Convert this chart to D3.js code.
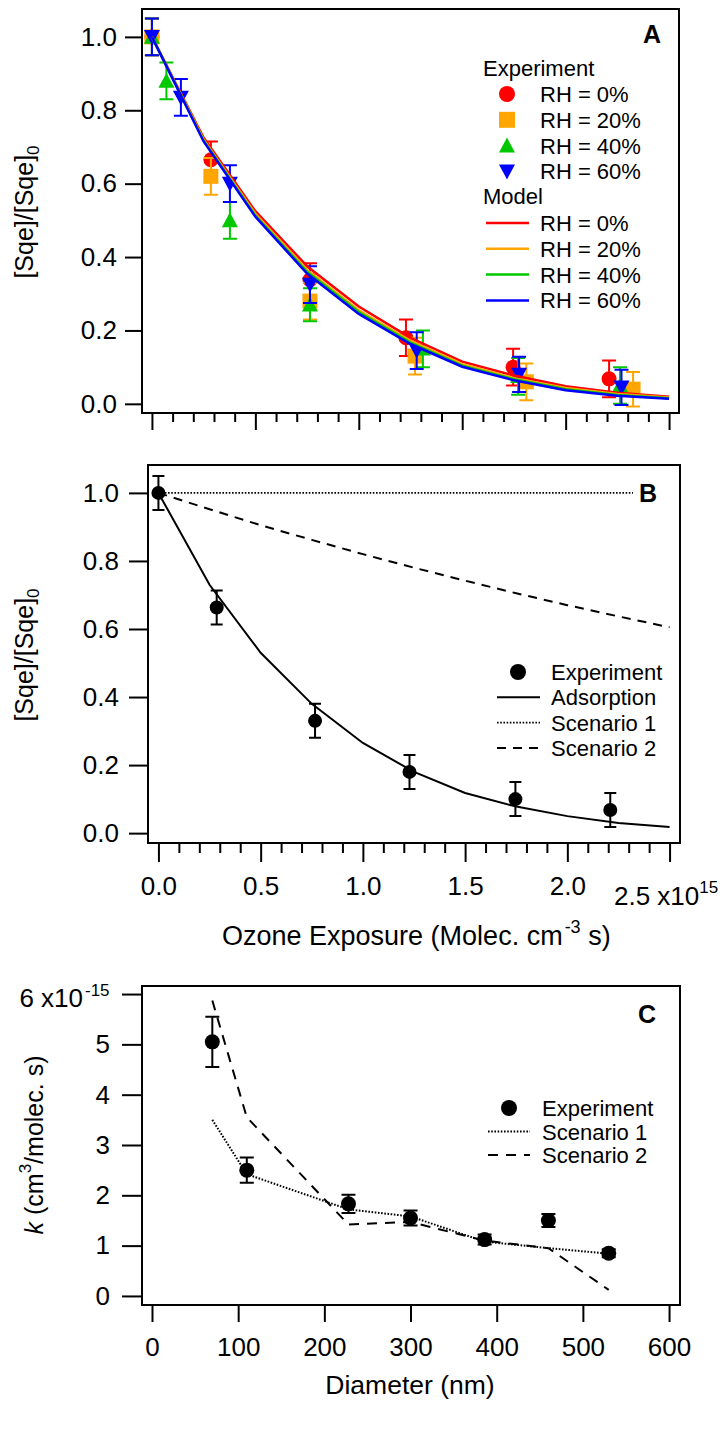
<!DOCTYPE html>
<html>
<head>
<meta charset="utf-8">
<script src="https://cdn.jsdelivr.net/npm/d3@7"></script>
<style>
  body { margin: 0; background: #fff; }
  text { font-family: "Liberation Sans", Arial, Helvetica, sans-serif; fill: #000; }
</style>
</head>
<body>
<svg id="chart"></svg>
<script>
// ---------- data ----------
// panel A, experiment: [exposure (1e15), Sqe/Sqe0, error]
var expRH0  = [[0, 1.0, 0.05], [0.285, 0.665, 0.05], [0.764, 0.338, 0.045], [1.228, 0.18, 0.05], [1.746, 0.10, 0.05], [2.21, 0.068, 0.05]];
var expRH20 = [[0, 1.0, 0.05], [0.285, 0.62, 0.05], [0.764, 0.28, 0.05], [1.272, 0.13, 0.05], [1.81, 0.06, 0.05], [2.326, 0.04, 0.047]];
var expRH40 = [[0, 1.0, 0.05], [0.07, 0.88, 0.05], [0.377, 0.50, 0.05], [0.764, 0.27, 0.045], [1.31, 0.15, 0.05], [1.77, 0.075, 0.05], [2.263, 0.05, 0.05]];
var expRH60 = [[0, 1.0, 0.05], [0.14, 0.835, 0.05], [0.377, 0.60, 0.05], [0.764, 0.325, 0.05], [1.28, 0.145, 0.05], [1.775, 0.08, 0.048], [2.27, 0.045, 0.048]];

// model curves, sampled at modelX
var modelX    = [0, 0.25, 0.5, 0.75, 1.0, 1.25, 1.5, 1.75, 2.0, 2.25, 2.5];
var modelRH0  = [1.0, 0.725, 0.525, 0.375, 0.265, 0.18, 0.115, 0.077, 0.048, 0.030, 0.019];
var modelRH20 = [1.0, 0.72, 0.518, 0.365, 0.255, 0.172, 0.108, 0.070, 0.043, 0.027, 0.017];
var modelRH40 = [1.0, 0.717, 0.513, 0.36, 0.25, 0.167, 0.104, 0.067, 0.040, 0.024, 0.015];
var modelRH60 = [1.0, 0.715, 0.51, 0.355, 0.245, 0.163, 0.101, 0.064, 0.037, 0.022, 0.014];

// panel B
var expB       = [[0, 1.0, 0.05], [0.285, 0.663, 0.05], [0.766, 0.33, 0.05], [1.228, 0.18, 0.05], [1.746, 0.10, 0.05], [2.21, 0.068, 0.05]];
var adsorption = [1.0, 0.73, 0.53, 0.38, 0.265, 0.18, 0.118, 0.078, 0.05, 0.03, 0.018];
var scenario1B = [1.0, 1.0, 1.0, 1.0, 1.0, 1.0, 1.0, 1.0, 1.0, 1.0, 1.0];
var scenario2B = [1.0, 0.952, 0.905, 0.862, 0.82, 0.78, 0.742, 0.705, 0.67, 0.637, 0.605];

// panel C: diameter (nm), k (1e-15 cm3/molec s)
var diamC   = [70, 110, 228, 300, 386, 460, 530];
var kExp    = [5.05, 2.5, 1.83, 1.55, 1.12, 1.5, 0.85];
var kErr    = [0.5, 0.25, 0.18, 0.15, 0.1, 0.13, 0.08];
var kScen1  = [3.5, 2.42, 1.72, 1.58, 1.08, 0.95, 0.84];
var kScen2  = [5.87, 3.55, 1.42, 1.47, 1.1, 0.95, 0.12];

// ticks
var yTicksAB   = [0, 0.2, 0.4, 0.6, 0.8, 1.0];
var xMajorAB   = [0, 0.5, 1.0, 1.5, 2.0, 2.5];
var xMinorAB   = d3.range(0, 26).filter(function(i) { return i % 5 != 0; }).map(function(i) { return i / 10; });
var yTicksC    = [0, 1, 2, 3, 4, 5, 6];
var xTicksC    = [0, 100, 200, 300, 400, 500, 600];

var RED = "#ff0000", ORANGE = "#ffa500", GREEN = "#00c800", BLUE = "#0000ff";
var TICK_FS = 26, TITLE_FS = 26.5, LEG_FS = 22;

// ---------- svg ----------
var svg = d3.select("#chart").attr("width", 727).attr("height", 1449);

var shapes = {
  circle: function(r) { return "M" + (-r) + ",0a" + r + "," + r + " 0 1,0 " + (2 * r) + ",0a" + r + "," + r + " 0 1,0 " + (-2 * r) + ",0Z"; },
  square: function(r) { return "M" + (-r) + "," + (-r) + "h" + (2 * r) + "v" + (2 * r) + "h" + (-2 * r) + "Z"; },
  up:     function(r) { return "M" + (-r) + "," + (r * 0.85) + "H" + r + "L0," + (-r) + "Z"; },
  down:   function(r) { return "M" + (-r) + "," + (-r * 0.85) + "H" + r + "L0," + r + "Z"; }
};

function styleAxis(g) {
  g.attr("font-size", null).attr("font-family", null);
  g.select(".domain").remove();
  g.selectAll(".tick line").attr("stroke", "#000").attr("stroke-width", 2);
  g.selectAll(".tick text").style("font-size", TICK_FS + "px");
}

function frame(x, y) {
  var x0 = x.range()[0], x1 = x.range()[1], y0 = y.range()[1], y1 = y.range()[0];
  svg.append("rect").attr("x", x0).attr("y", y0).attr("width", x1 - x0).attr("height", y1 - y0)
    .attr("fill", "none").attr("stroke", "#000").attr("stroke-width", 2);
}

function errorBars(g, data, x, y, color, cap) {
  g.append("g").attr("stroke", color).attr("stroke-width", 2).attr("fill", "none")
    .selectAll("path").data(data).join("path")
    .attr("d", function(d) {
      var cx = x(d[0]), t = y(d[1] + d[2]), b = y(d[1] - d[2]);
      return "M" + (cx - cap) + "," + t + "h" + (2 * cap) + "M" + cx + "," + t + "V" + b + "M" + (cx - cap) + "," + b + "h" + (2 * cap);
    });
}

function markers(g, data, x, y, color, shape, r) {
  g.append("g").attr("fill", color)
    .selectAll("path").data(data).join("path")
    .attr("transform", function(d) { return "translate(" + x(d[0]) + "," + y(d[1]) + ")"; })
    .attr("d", shapes[shape](r));
}

// ================= Panel A =================
var xA = d3.scaleLinear().domain([-0.048, 2.548]).range([142, 679]);
var yA = d3.scaleLinear().domain([-0.025, 1.076]).range([413, 9]);

svg.append("g").attr("transform", "translate(142,0)")
  .call(d3.axisLeft(yA).tickValues(yTicksAB).tickFormat(d3.format(".1f")).tickSize(17).tickPadding(8))
  .call(styleAxis);
svg.append("g").attr("transform", "translate(0,413)")
  .call(d3.axisBottom(xA).tickValues(xMajorAB).tickFormat("").tickSize(17))
  .call(styleAxis);
svg.append("g").attr("transform", "translate(0,413)")
  .call(d3.axisBottom(xA).tickValues(xMinorAB).tickFormat("").tickSize(9))
  .call(styleAxis);

var expA = [
  { data: expRH0, color: RED, shape: "circle", r: 7.5 },
  { data: expRH20, color: ORANGE, shape: "square", r: 7.5 },
  { data: expRH40, color: GREEN, shape: "up", r: 8 },
  { data: expRH60, color: BLUE, shape: "down", r: 8 }
];
var gA = svg.append("g");
expA.forEach(function(s) {
  errorBars(gA, s.data, xA, yA, s.color, 7);
  markers(gA, s.data, xA, yA, s.color, s.shape, s.r);
});

var modelA = [
  { values: modelRH0, color: RED },
  { values: modelRH20, color: ORANGE },
  { values: modelRH40, color: GREEN },
  { values: modelRH60, color: BLUE }
];
var lineA = d3.line().x(function(d, i) { return xA(modelX[i]); }).y(function(d) { return yA(d); });
modelA.forEach(function(s) {
  gA.append("path").attr("d", lineA(s.values)).attr("fill", "none")
    .attr("stroke", s.color).attr("stroke-width", 2.5);
});
frame(xA, yA);

svg.append("text").attr("x", 652).attr("y", 43).attr("text-anchor", "middle")
  .style("font-size", "25px").style("font-weight", "bold").text("A");

// legend A
var rhLabels = ["RH = 0%", "RH = 20%", "RH = 40%", "RH = 60%"];
var legA = svg.append("g").style("font-size", LEG_FS + "px");
legA.append("text").attr("x", 483).attr("y", 76).text("Experiment");
expA.forEach(function(s, i) {
  var cy = 94 + i * 25.8;
  legA.append("path").attr("transform", "translate(507," + cy + ")").attr("d", shapes[s.shape](8)).attr("fill", s.color);
  legA.append("text").attr("x", 540).attr("y", cy + 8).text(rhLabels[i]);
});
legA.append("text").attr("x", 483).attr("y", 204).text("Model");
modelA.forEach(function(s, i) {
  var cy = 223 + i * 25.8;
  legA.append("line").attr("x1", 486).attr("x2", 529).attr("y1", cy).attr("y2", cy)
    .attr("stroke", s.color).attr("stroke-width", 2.5);
  legA.append("text").attr("x", 540).attr("y", cy + 8).text(rhLabels[i]);
});

// y title A
var tA = svg.append("text").attr("transform", "translate(33,212) rotate(-90)").attr("text-anchor", "middle")
  .style("font-size", "25px");
tA.append("tspan").text("[Sqe]/[Sqe]");
tA.append("tspan").attr("dy", 6).style("font-size", "17px").text("0");

// ================= Panel B =================
var xB = d3.scaleLinear().domain([-0.051, 2.551]).range([148, 680]);
var yB = d3.scaleLinear().domain([-0.029, 1.082]).range([843, 465]);

svg.append("g").attr("transform", "translate(148,0)")
  .call(d3.axisLeft(yB).tickValues(yTicksAB).tickFormat(d3.format(".1f")).tickSize(19).tickPadding(10))
  .call(styleAxis);
svg.append("g").attr("transform", "translate(0,843)")
  .call(d3.axisBottom(xB).tickValues(xMajorAB).tickSize(19).tickPadding(15)
    .tickFormat(function(d) { return d === 2.5 ? "" : d3.format(".1f")(d); }))
  .call(styleAxis);
svg.append("g").attr("transform", "translate(0,843)")
  .call(d3.axisBottom(xB).tickValues(xMinorAB).tickFormat("").tickSize(10))
  .call(styleAxis);

var lineB = d3.line().x(function(d, i) { return xB(modelX[i]); }).y(function(d) { return yB(d); });
var gB = svg.append("g");
gB.append("path").attr("d", lineB(scenario1B)).attr("fill", "none").attr("stroke", "#000")
  .attr("stroke-width", 1.8).attr("stroke-dasharray", "1.6,1.6");
gB.append("path").attr("d", lineB(scenario2B)).attr("fill", "none").attr("stroke", "#000")
  .attr("stroke-width", 2).attr("stroke-dasharray", "9,7");
gB.append("path").attr("d", lineB(adsorption)).attr("fill", "none").attr("stroke", "#000")
  .attr("stroke-width", 2);
errorBars(gB, expB, xB, yB, "#000", 6);
markers(gB, expB, xB, yB, "#000", "circle", 7);

// label box hides the end of the dotted line, as in the original
svg.append("rect").attr("x", 633).attr("y", 482).attr("width", 46).attr("height", 24).attr("fill", "#fff");
frame(xB, yB);
svg.append("text").attr("x", 648).attr("y", 502).attr("text-anchor", "middle")
  .style("font-size", "25px").style("font-weight", "bold").text("B");

// legend B
var legB = svg.append("g").style("font-size", LEG_FS + "px");
var legBRows = ["Experiment", "Adsorption", "Scenario 1", "Scenario 2"];
var legBDash = [null, null, "1.6,1.6", "9,7"];
legBRows.forEach(function(lbl, i) {
  var cy = 672 + i * 25.3;
  if (i === 0) {
    legB.append("path").attr("transform", "translate(518," + cy + ")").attr("d", shapes.circle(8)).attr("fill", "#000");
  } else {
    legB.append("line").attr("x1", 497).attr("x2", 540).attr("y1", cy).attr("y2", cy)
      .attr("stroke", "#000").attr("stroke-width", i === 2 ? 1.8 : 2).attr("stroke-dasharray", legBDash[i]);
  }
  legB.append("text").attr("x", 551).attr("y", cy + 8).text(lbl);
});

// y title B
var tB = svg.append("text").attr("transform", "translate(33,655) rotate(-90)").attr("text-anchor", "middle")
  .style("font-size", "25px");
tB.append("tspan").text("[Sqe]/[Sqe]");
tB.append("tspan").attr("dy", 6).style("font-size", "17px").text("0");

// x tick 2.5 with exponent
var t25 = svg.append("text").attr("x", 614).attr("y", 905).style("font-size", TICK_FS + "px");
t25.append("tspan").text("2.5 x10");
t25.append("tspan").attr("dy", -12).style("font-size", "17px").text("15");

// x title
var tX = svg.append("text").attr("x", 222).attr("y", 945).style("font-size", "27px");
tX.append("tspan").text("Ozone Exposure (Molec. cm");
tX.append("tspan").attr("dy", -12).attr("dx", 2).style("font-size", "18px").text("-3");
tX.append("tspan").attr("dy", 12).text(" s)");

// ================= Panel C =================
var xC = d3.scaleLinear().domain([-11.6, 612.7]).range([142, 680]);
var yC = d3.scaleLinear().domain([-0.18, 6.16]).range([1305, 986]);

svg.append("g").attr("transform", "translate(142,0)")
  .call(d3.axisLeft(yC).tickValues(yTicksC).tickSize(20).tickPadding(12)
    .tickFormat(function(d) { return d === 6 ? "" : d; }))
  .call(styleAxis);
svg.append("g").attr("transform", "translate(0,1305)")
  .call(d3.axisBottom(xC).tickValues(xTicksC).tickSize(17).tickPadding(16))
  .call(styleAxis);

var pointsC = diamC.map(function(d, i) { return [d, kExp[i], kErr[i]]; });
var lineC = d3.line().x(function(d, i) { return xC(diamC[i]); }).y(function(d) { return yC(d); });
var gC = svg.append("g");
gC.append("path").attr("d", lineC(kScen1)).attr("fill", "none").attr("stroke", "#000")
  .attr("stroke-width", 2).attr("stroke-dasharray", "1.6,1.6");
gC.append("path").attr("d", lineC(kScen2)).attr("fill", "none").attr("stroke", "#000")
  .attr("stroke-width", 2).attr("stroke-dasharray", "10,8");
errorBars(gC, pointsC, xC, yC, "#000", 7);
markers(gC, pointsC, xC, yC, "#000", "circle", 7.5);
frame(xC, yC);

svg.append("text").attr("x", 647).attr("y", 1023).attr("text-anchor", "middle")
  .style("font-size", "25px").style("font-weight", "bold").text("C");

// y tick 6 with exponent
svg.append("text").attr("x", 83).attr("y", 1007).attr("text-anchor", "end")
  .style("font-size", TICK_FS + "px").text("6 x10");
svg.append("text").attr("x", 85).attr("y", 996).style("font-size", "17px").text("-15");

// legend C
var legC = svg.append("g").style("font-size", LEG_FS + "px");
var legCRows = ["Experiment", "Scenario 1", "Scenario 2"];
var legCDash = [null, "1.6,1.6", "10,8"];
legCRows.forEach(function(lbl, i) {
  var cy = 1108 + i * 23.5;
  if (i === 0) {
    legC.append("path").attr("transform", "translate(509," + cy + ")").attr("d", shapes.circle(8)).attr("fill", "#000");
  } else {
    legC.append("line").attr("x1", 488).attr("x2", 530).attr("y1", cy).attr("y2", cy)
      .attr("stroke", "#000").attr("stroke-width", 2).attr("stroke-dasharray", legCDash[i]);
  }
  legC.append("text").attr("x", 542).attr("y", cy + 8).text(lbl);
});

// y title C
var tC = svg.append("text").attr("transform", "translate(43,1145) rotate(-90)").attr("text-anchor", "middle")
  .style("font-size", "25px");
tC.append("tspan").style("font-style", "italic").text("k");
tC.append("tspan").text(" (cm");
tC.append("tspan").attr("dy", -12).style("font-size", "17px").text("3");
tC.append("tspan").attr("dy", 12).text("/molec. s)");

// x title C
svg.append("text").attr("x", 410).attr("y", 1394).attr("text-anchor", "middle")
  .style("font-size", TITLE_FS + "px").text("Diameter (nm)");
</script>
</body>
</html>
